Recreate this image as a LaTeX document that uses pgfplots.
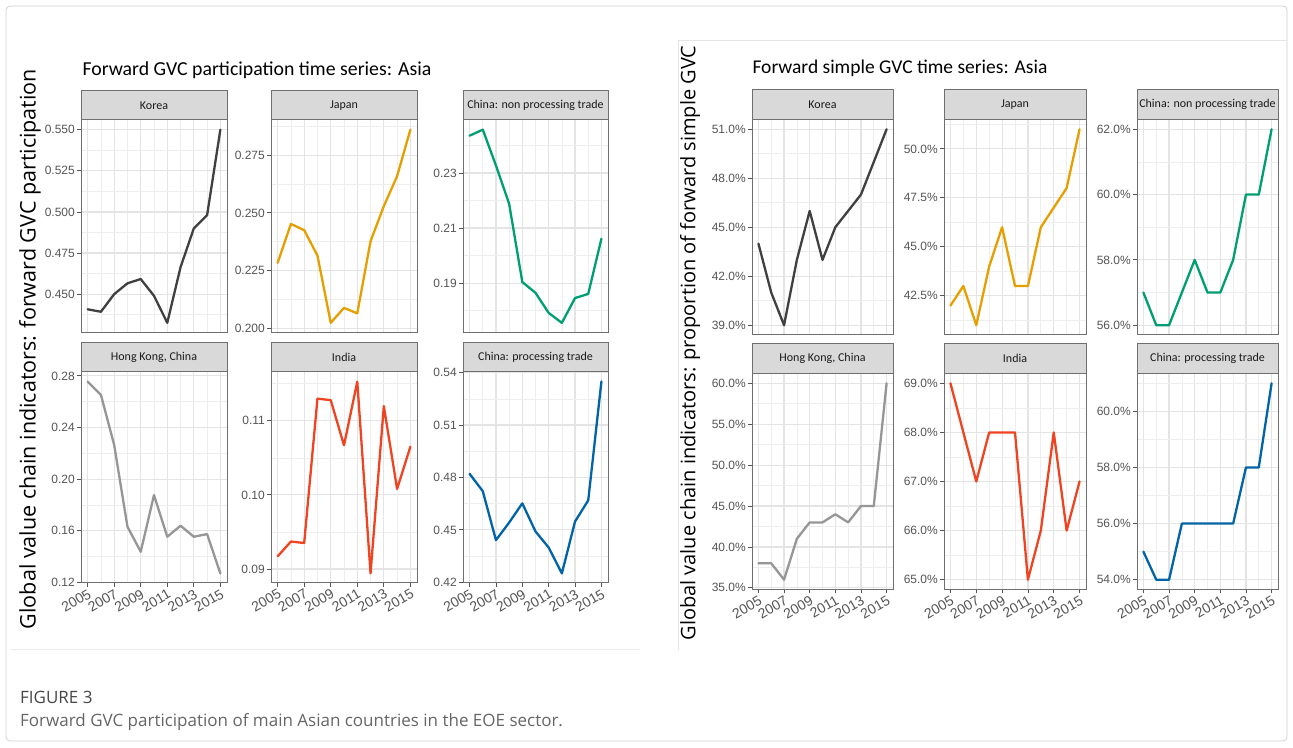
\documentclass[border=0pt]{standalone}
\usepackage{pgfplots}
\pgfplotsset{compat=1.18}
\usepackage{fontspec}
\setmainfont{Liberation Sans}
\newfontfamily\stripfont{Carlito}
\newfontfamily\titlefont{Carlito}
\newfontfamily\labelfont{Open Sans}
\newfontfamily\capfont{Open Sans}
\definecolor{korea}{HTML}{404040}
\definecolor{japan}{HTML}{E69F00}
\definecolor{chinanp}{HTML}{009E73}
\definecolor{hk}{HTML}{969696}
\definecolor{india}{HTML}{EE4422}
\definecolor{chinap}{HTML}{0064A6}
\definecolor{gridc}{HTML}{E4E4E4}
\definecolor{gridm}{HTML}{EEEEEE}
\definecolor{framec}{HTML}{6F6F6F}
\definecolor{tickc}{HTML}{555555}
\definecolor{tickt}{HTML}{555555}
\definecolor{stripc}{HTML}{D9D9D9}
\definecolor{stript}{HTML}{1A1A1A}
\pgfplotsset{
  panel/.style={
    scale only axis,
    anchor=north west,
    xmin=2004.5, xmax=2015.5,
    xtick={2005,2007,...,2015},
    minor xtick={2006,2008,...,2014},
    xticklabels={2005,2007,2009,2011,2013,2015},
    grid=both,
    major grid style={draw=gridc, line width=1.2pt},
    minor grid style={draw=gridm, line width=0.7pt},
    axis line style={draw=framec, line width=1pt},
    tick style={draw=tickc, line width=0.8pt},
    tick align=outside,
    major tick length=4pt,
    minor tick length=0pt,
    tick pos=left,
    yticklabel style={font=\fontsize{12}{12}\selectfont, text=tickt, inner sep=2pt},
    xticklabel style={font=\fontsize{14}{14}\selectfont, text=tickt, rotate=30, anchor=north east, inner sep=1pt},
    clip=false,
  },
  toprow/.style={xticklabels={}, xmajorticks=false},
  ser/.style={color=#1, line width=2.3pt, line join=round, line cap=round},
}
\newcommand\strip[3]{%
  \draw[fill=stripc, draw=framec, line width=1pt] (rel axis cs:0,1) rectangle ([yshift=#1pt]rel axis cs:1,1);
  \node[font=\stripfont\fontsize{12}{12}\selectfont, text=stript] at ([yshift=#2pt]rel axis cs:0.5,1) {#3};
}
\begin{document}
\begin{tikzpicture}
\useasboundingbox (0,0) rectangle (1293pt,747pt);
\fill[white] (0,0) rectangle (1293pt,747pt);
\draw[draw=black!18, line width=0.8pt, rounded corners=4pt] (6pt,6pt) rectangle (1287pt,741pt);
\draw[draw=black!10, line width=0.6pt] (678pt,97pt) -- (678pt,707pt) -- (1287pt,707pt);
\draw[draw=black!8, line width=0.6pt] (10pt,98pt) -- (640pt,98pt);

% ---------------- LEFT FIGURE ----------------
\node[anchor=west, font=\titlefont\fontsize{19.8}{21}\selectfont] at (79pt,677pt) {Forward GVC participation time series: Asia};
\node[rotate=90, font=\labelfont\fontsize{21.5}{23}\selectfont] at (30pt,398pt) {Global value chain indicators: forward GVC participation};

\begin{axis}[panel, toprow, at={(81pt,627pt)}, width=146pt, height=212.5pt,
  ymin=0.4267, ymax=0.5559,
  ytick={0.450,0.475,0.500,0.525,0.550}, yticklabels={0.450,0.475,0.500,0.525,0.550},
  minor ytick={0.4375,0.4625,0.4875,0.5125,0.5375}]
\addplot[ser=korea] coordinates {(2005,0.4408)(2006,0.4393)(2007,0.4500)(2008,0.4566)(2009,0.4592)(2010,0.4490)(2011,0.4326)(2012,0.4664)(2013,0.4900)(2014,0.4980)(2015,0.5500)};
\strip{29}{14.5}{Korea}
\end{axis}

\begin{axis}[panel, toprow, at={(271pt,627pt)}, width=146pt, height=212.5pt,
  ymin=0.1981, ymax=0.2903,
  ytick={0.200,0.225,0.250,0.275}, yticklabels={0.200,0.225,0.250,0.275},
  minor ytick={0.2125,0.2375,0.2625,0.2875}]
\addplot[ser=japan] coordinates {(2005,0.2283)(2006,0.2452)(2007,0.2425)(2008,0.2315)(2009,0.2023)(2010,0.2088)(2011,0.2064)(2012,0.2377)(2013,0.2529)(2014,0.2659)(2015,0.2861)};
\strip{29}{14.5}{Japan}
\end{axis}

\begin{axis}[panel, toprow, at={(463pt,627pt)}, width=145pt, height=212.5pt,
  ymin=0.1721, ymax=0.2492,
  ytick={0.19,0.21,0.23}, yticklabels={0.19,0.21,0.23},
  minor ytick={0.18,0.20,0.22,0.24}]
\addplot[ser=chinanp] coordinates {(2005,0.2435)(2006,0.2457)(2007,0.2327)(2008,0.2188)(2009,0.1904)(2010,0.1865)(2011,0.1792)(2012,0.1756)(2013,0.1846)(2014,0.1861)(2015,0.2061)};
\strip{29}{14.5}{China: non processing trade}
\end{axis}

\begin{axis}[panel, at={(81pt,375pt)}, width=146pt, height=211pt,
  ymin=0.1196, ymax=0.2830,
  ytick={0.12,0.16,0.20,0.24,0.28}, yticklabels={0.12,0.16,0.20,0.24,0.28},
  minor ytick={0.14,0.18,0.22,0.26}]
\addplot[ser=hk] coordinates {(2005,0.2756)(2006,0.2653)(2007,0.2265)(2008,0.1632)(2009,0.1438)(2010,0.1877)(2011,0.1554)(2012,0.1640)(2013,0.1554)(2014,0.1575)(2015,0.1270)};
\strip{29}{14.5}{Hong Kong, China}
\end{axis}

\begin{axis}[panel, at={(271pt,375pt)}, width=146pt, height=211pt,
  ymin=0.0881, ymax=0.1166,
  ytick={0.09,0.10,0.11}, yticklabels={0.09,0.10,0.11},
  minor ytick={0.095,0.105,0.115}]
\addplot[ser=india] coordinates {(2005,0.0917)(2006,0.0937)(2007,0.0935)(2008,0.1130)(2009,0.1128)(2010,0.1067)(2011,0.1153)(2012,0.0894)(2013,0.1120)(2014,0.1008)(2015,0.1065)};
\strip{29}{14.5}{India}
\end{axis}

\begin{axis}[panel, at={(463pt,375pt)}, width=145pt, height=211pt,
  ymin=0.4196, ymax=0.5404,
  ytick={0.42,0.45,0.48,0.51,0.54}, yticklabels={0.42,0.45,0.48,0.51,0.54},
  minor ytick={0.435,0.465,0.495,0.525}]
\addplot[ser=chinap] coordinates {(2005,0.4821)(2006,0.4722)(2007,0.4441)(2008,0.4542)(2009,0.4652)(2010,0.4491)(2011,0.4399)(2012,0.4251)(2013,0.4548)(2014,0.4669)(2015,0.5349)};
\strip{29}{14.5}{China: processing trade}
\end{axis}

% ---------------- RIGHT FIGURE ----------------
\node[anchor=west, font=\titlefont\fontsize{19.5}{21}\selectfont] at (749pt,679pt) {Forward simple GVC time series: Asia};
\node[rotate=90, font=\labelfont\fontsize{20}{22}\selectfont] at (690pt,404pt) {Global value chain indicators: proportion of forward simple GVC};

\begin{axis}[panel, toprow, at={(752pt,627.5pt)}, width=141pt, height=215.5pt,
  ymin=38.4, ymax=51.6,
  ytick={39,42,45,48,51}, yticklabels={39.0\%,42.0\%,45.0\%,48.0\%,51.0\%},
  minor ytick={40.5,43.5,46.5,49.5}]
\addplot[ser=korea] coordinates {(2005,44)(2006,41)(2007,39)(2008,43)(2009,46)(2010,43)(2011,45)(2012,46)(2013,47)(2014,49)(2015,51)};
\strip{29.5}{14.75}{Korea}
\end{axis}

\begin{axis}[panel, toprow, at={(944pt,627.5pt)}, width=142pt, height=215.5pt,
  ymin=40.5, ymax=51.5,
  ytick={42.5,45,47.5,50}, yticklabels={42.5\%,45.0\%,47.5\%,50.0\%},
  minor ytick={41.25,43.75,46.25,48.75,51.25}]
\addplot[ser=japan] coordinates {(2005,42)(2006,43)(2007,41)(2008,44)(2009,46)(2010,43)(2011,43)(2012,46)(2013,47)(2014,48)(2015,51)};
\strip{29.5}{14.75}{Japan}
\end{axis}

\begin{axis}[panel, toprow, at={(1137pt,627.5pt)}, width=141pt, height=215.5pt,
  ymin=55.7, ymax=62.3,
  ytick={56,58,60,62}, yticklabels={56.0\%,58.0\%,60.0\%,62.0\%},
  minor ytick={57,59,61}]
\addplot[ser=chinanp] coordinates {(2005,57)(2006,56)(2007,56)(2008,57)(2009,58)(2010,57)(2011,57)(2012,58)(2013,60)(2014,60)(2015,62)};
\strip{29.5}{14.75}{China: non processing trade}
\end{axis}

\begin{axis}[panel, at={(752pt,373.5pt)}, width=141pt, height=216pt,
  ymin=34.8, ymax=61.2,
  ytick={35,40,45,50,55,60}, yticklabels={35.0\%,40.0\%,45.0\%,50.0\%,55.0\%,60.0\%},
  minor ytick={37.5,42.5,47.5,52.5,57.5}]
\addplot[ser=hk] coordinates {(2005,38)(2006,38)(2007,36)(2008,41)(2009,43)(2010,43)(2011,44)(2012,43)(2013,45)(2014,45)(2015,60)};
\strip{29.5}{14.75}{Hong Kong, China}
\end{axis}

\begin{axis}[panel, at={(944pt,373.5pt)}, width=142pt, height=216pt,
  ymin=64.8, ymax=69.2,
  ytick={65,66,67,68,69}, yticklabels={65.0\%,66.0\%,67.0\%,68.0\%,69.0\%},
  minor ytick={65.5,66.5,67.5,68.5}]
\addplot[ser=india] coordinates {(2005,69)(2006,68)(2007,67)(2008,68)(2009,68)(2010,68)(2011,65)(2012,66)(2013,68)(2014,66)(2015,67)};
\strip{29.5}{14.75}{India}
\end{axis}

\begin{axis}[panel, at={(1137pt,373.5pt)}, width=141pt, height=216pt,
  ymin=53.65, ymax=61.35,
  ytick={54,56,58,60}, yticklabels={54.0\%,56.0\%,58.0\%,60.0\%},
  minor ytick={55,57,59,61}]
\addplot[ser=chinap] coordinates {(2005,55)(2006,54)(2007,54)(2008,56)(2009,56)(2010,56)(2011,56)(2012,56)(2013,58)(2014,58)(2015,61)};
\strip{29.5}{14.75}{China: processing trade}
\end{axis}

% ---------------- CAPTION ----------------
\node[anchor=base west, font=\capfont\fontsize{17}{20}\selectfont, text=black!72, inner sep=0pt] at (20pt,43pt) {FIGURE 3};
\node[anchor=base west, font=\capfont\fontsize{17}{20}\selectfont, text=black!60, inner sep=0pt] at (20pt,20pt) {Forward GVC participation of main Asian countries in the EOE sector.};
\end{tikzpicture}
\end{document}
